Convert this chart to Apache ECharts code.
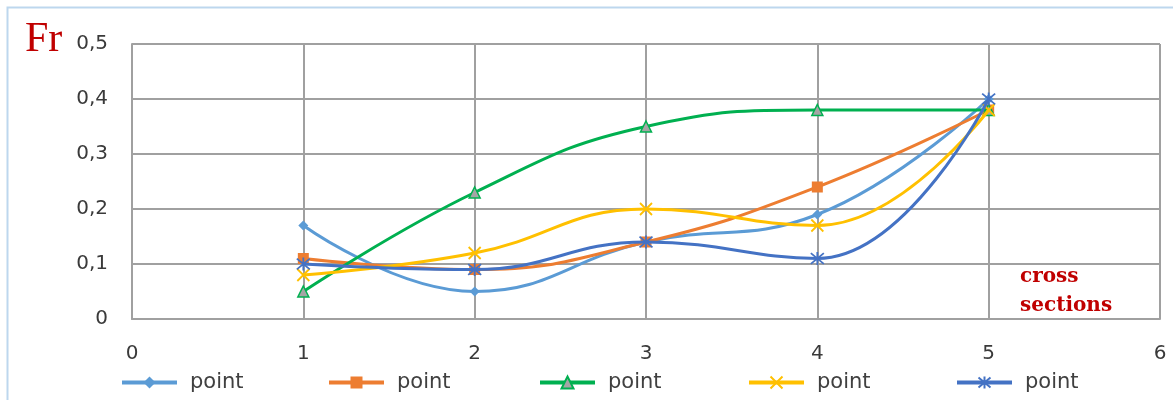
<!DOCTYPE html>
<html>
<head>
<meta charset="utf-8">
<script src="https://cdn.jsdelivr.net/npm/echarts@6/dist/echarts.min.js"></script>
<style>
html,body{margin:0;padding:0;background:#fff;}
#c{width:1173px;height:400px;}
</style>
</head>
<body>
<div id="c"></div>
<script>
const crossSections = [1, 2, 3, 4, 5];
const legendLabel = 'point';
const seriesKeys = ['p1', 'p2', 'p3', 'p4', 'p5'];
const point1 = [0.17, 0.05, 0.14, 0.19, 0.40];
const point2 = [0.11, 0.09, 0.14, 0.24, 0.38];
const point3 = [0.05, 0.23, 0.35, 0.38, 0.38];
const point4 = [0.08, 0.12, 0.20, 0.17, 0.38];
const point5 = [0.10, 0.09, 0.14, 0.11, 0.40];
const xTickLabels = ['0', '1', '2', '3', '4', '5', '6'];
const yTickLabels = ['0', '0,1', '0,2', '0,3', '0,4', '0,5'];

const colors = ['#5B9BD5', '#ED7D31', '#00B050', '#FFC000', '#4472C4'];
const values = [point1, point2, point3, point4, point5];
const symbols = [
  'diamond',
  'rect',
  'triangle',
  'path://M0 0L10 10M10 0L0 10',
  'path://M0 0L10 10M10 0L0 10M5 -1L5 11'
];
const symbolSizes = [10, 11, 11, 12, 13];

const chart = echarts.init(document.getElementById('c'), null, {renderer: 'canvas'});

const series = values.map((vals, i) => {
  const isStroke = i >= 3;
  return {
    name: seriesKeys[i],
    type: 'line',
    smooth: 0.45,
    data: crossSections.map((x, j) => [x, vals[j]]),
    symbol: symbols[i],
    symbolSize: symbolSizes[i],
    showSymbol: true,
    lineStyle: {color: colors[i], width: 3},
    itemStyle: {
      color: i === 2 ? '#A5A5A5' : (isStroke ? 'rgba(0,0,0,0)' : colors[i]),
      borderColor: colors[i],
      borderWidth: i === 2 ? 1.5 : (isStroke ? 1.8 : 0)
    },
    z: 2 + i
  };
});

const legendLefts = [120, 327, 538, 747, 955];
const legends = seriesKeys.map((k, i) => ({
  data: [k],
  left: legendLefts[i],
  top: 372,
  padding: 0,
  itemWidth: 55,
  itemHeight: 15,
  itemGap: 12,
  lineStyle: {width: 4},
  formatter: () => legendLabel,
  textStyle: {fontFamily: 'DejaVu Sans', fontSize: 21, color: '#404040', padding: [0, 0, 0, 8]},
  selectedMode: false
}));

chart.setOption({
  animation: false,
  backgroundColor: '#fff',
  grid: {left: 132, right: 13, top: 44, bottom: 81, containLabel: false},
  xAxis: {
    type: 'value', min: 0, max: 6, interval: 1,
    axisLine: {show: true, onZero: false, lineStyle: {color: '#A0A0A0', width: 2}},
    axisTick: {show: false},
    splitLine: {show: true, lineStyle: {color: '#A0A0A0', width: 2}},
    axisLabel: {
      margin: 25,
      formatter: (v) => xTickLabels[Math.round(v)],
      fontFamily: 'DejaVu Sans', fontSize: 20, color: '#3a3a3a'
    }
  },
  yAxis: {
    type: 'value', min: 0, max: 0.5, interval: 0.1,
    axisLine: {show: true, lineStyle: {color: '#A0A0A0', width: 2}},
    axisTick: {show: false},
    splitLine: {show: true, lineStyle: {color: '#A0A0A0', width: 2}},
    axisLabel: {
      margin: 24,
      formatter: (v) => yTickLabels[Math.round(v * 10)],
      fontFamily: 'DejaVu Sans', fontSize: 20, color: '#3a3a3a'
    }
  },
  legend: legends,
  graphic: [
    {type: 'rect', left: 5, top: 5, shape: {width: 1200, height: 420}, style: {fill: 'none', stroke: '#BDD7EE', lineWidth: 2}, silent: true, z: -1},
    {type: 'text', left: 25, top: 19, style: {text: 'Fr', fontFamily: 'Liberation Serif', fontSize: 42, fill: '#C00000'}},
    {type: 'text', left: 1020, top: 262, style: {text: 'cross\nsections', fontFamily: 'DejaVu Serif', fontWeight: 'bold', fontSize: 20, lineHeight: 29, fill: '#C00000'}}
  ],
  series: series
});
</script>
</body>
</html>
